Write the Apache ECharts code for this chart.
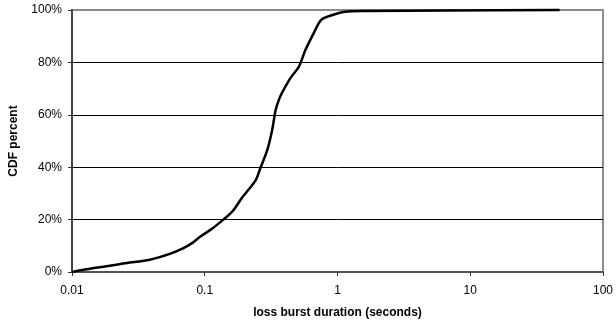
<!DOCTYPE html>
<html>
<head>
<meta charset="utf-8">
<script src="https://cdn.jsdelivr.net/npm/echarts@6/dist/echarts.min.js"></script>
<style>
  html, body { margin: 0; padding: 0; background: #fff; }
  #chart { width: 616px; height: 324px; }
</style>
</head>
<body>
<div id="chart"></div>
<script>
// Loss burst duration (seconds) and cumulative percentage of bursts
const durations = [0.01, 0.0146, 0.0259, 0.0386, 0.0545, 0.0685, 0.0813, 0.0912, 0.1148, 0.1364,
  0.162, 0.192, 0.242, 0.264, 0.296, 0.322, 0.342, 0.361, 0.383, 0.442, 0.511, 0.573, 0.661,
  0.754, 0.905, 1.14, 1.61, 6.74, 47.1];
const cdfPercent = [0, 1.5, 3.4, 4.7, 6.9, 9.0, 11.2, 13.3, 16.7, 19.8,
  23.2, 28.5, 35.1, 40.0, 46.6, 54.2, 61.8, 65.6, 68.5, 74.0, 78.3, 84.7, 91.1,
  96.2, 98.0, 99.3, 99.6, 99.8, 100];
const yTicks = [0, 20, 40, 60, 80, 100];
const xTicks = [0.01, 0.1, 1, 10, 100];

const points = durations.map((d, i) => [d, cdfPercent[i]]);
const font = 'Liberation Sans, Arial, sans-serif';

const chart = echarts.init(document.getElementById('chart'), null, { renderer: 'canvas' });
chart.setOption({
  animation: false,
  backgroundColor: '#fff',
  grid: {
    left: 72, right: 9, top: 10, bottom: 52,
    show: true, borderColor: '#8c8c8c', borderWidth: 2
  },
  xAxis: {
    type: 'log',
    logBase: 10,
    min: xTicks[0],
    max: xTicks[xTicks.length - 1],
    name: 'loss burst duration (seconds)',
    nameLocation: 'middle',
    nameGap: 35,
    nameTextStyle: { fontFamily: font, fontSize: 12, fontWeight: 'bold', color: '#000' },
    axisLine: { lineStyle: { color: '#555', width: 2 } },
    axisTick: { show: true, length: 4, lineStyle: { color: '#333' } },
    axisLabel: {
      fontFamily: font, fontSize: 12, color: '#000', margin: 13,
      formatter: v => String(parseFloat(v.toPrecision(6)))
    },
    splitLine: { show: false },
    minorTick: { show: false }
  },
  yAxis: {
    type: 'value',
    min: yTicks[0],
    max: yTicks[yTicks.length - 1],
    interval: 20,
    name: 'CDF percent',
    nameLocation: 'middle',
    nameGap: 52,
    nameRotate: 90,
    nameTextStyle: { fontFamily: font, fontSize: 12, fontWeight: 'bold', color: '#000' },
    axisLine: { show: true, lineStyle: { color: '#444', width: 2 } },
    axisTick: { show: true, length: 4, lineStyle: { color: '#333' } },
    axisLabel: { fontFamily: font, fontSize: 12, color: '#000', margin: 10, formatter: '{value}%' },
    splitLine: {
      show: true,
      showMinLine: false,
      showMaxLine: false,
      lineStyle: { color: '#000', width: 1 }
    }
  },
  series: [{
    type: 'line',
    data: points,
    showSymbol: false,
    smooth: 0.3,
    lineStyle: { color: '#000', width: 2.5 },
    clip: false
  }]
});
</script>
</body>
</html>
